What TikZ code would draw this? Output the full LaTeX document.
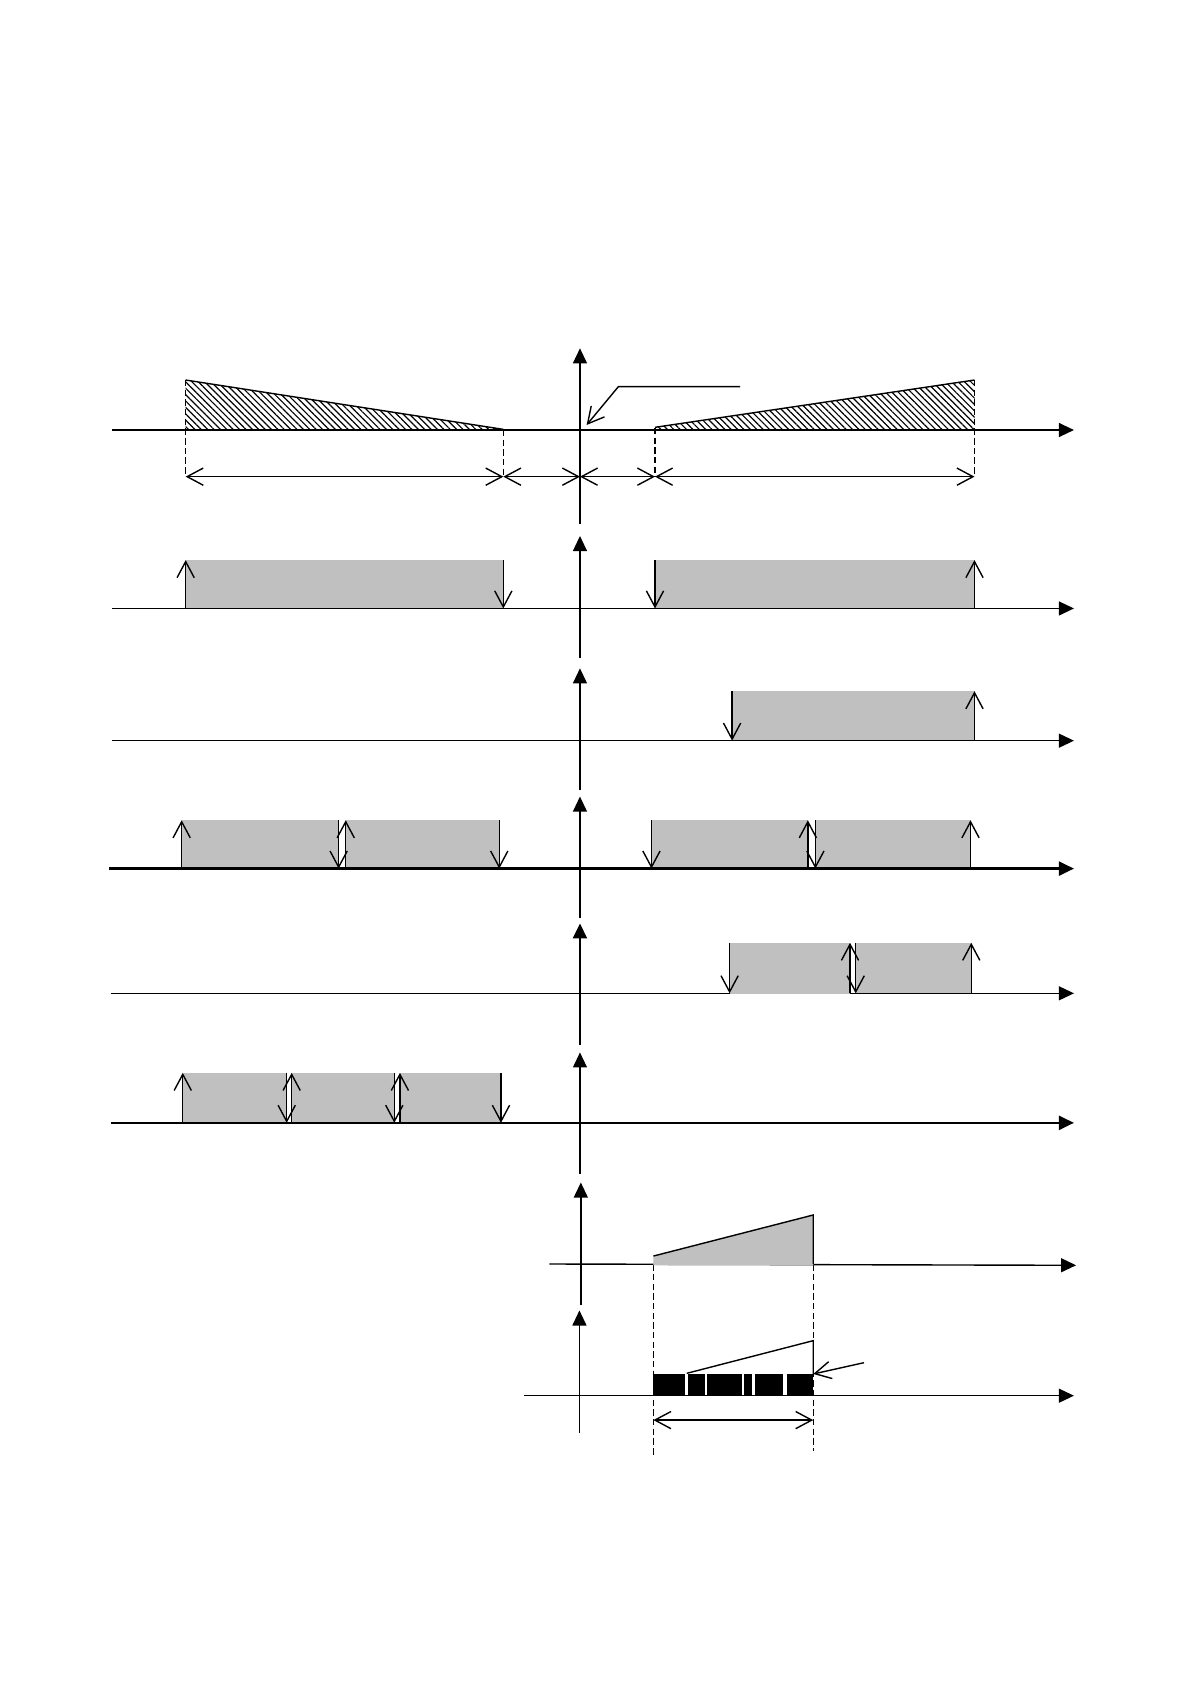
\documentclass[tikz,border=0pt]{standalone}
\usetikzlibrary{arrows.meta,patterns.meta}
\definecolor{fillgray}{RGB}{192,192,192}
\begin{document}
\begin{tikzpicture}[x=1pt,y=-1pt,
  thinln/.style={line width=1.3pt},
  thickln/.style={line width=2.3pt},
  axisarrow/.style={-{Triangle[length=14pt,width=13pt]}},
  openarrow/.style={thinln,-{Straight Barb[length=15pt,width=16pt]}},
  dimarrow/.style={thinln,{Straight Barb[length=15pt,width=16pt]}-{Straight Barb[length=15pt,width=16pt]}},
  dashln/.style={line width=1.2pt,dash pattern=on 6pt off 3pt},
  hatch/.style={pattern={Lines[angle=-45,distance=4.2pt,line width=1.1pt]}},
  barfill/.style={fill=fillgray}]
\useasboundingbox (0,0) rectangle (1107,1566.5);

% ---------- row 1 ----------
\fill[hatch] (172.7,353.5) -- (468.2,399.4) -- (468.2,400) -- (172.7,400) -- cycle;
\fill[hatch] (609.3,397.5) -- (906.5,353.5) -- (906.5,400) -- (609.3,400) -- cycle;
\draw[thinln] (172.7,353.5) -- (468.2,399.4);
\draw[thinln] (609.3,397.5) -- (906.5,353.5);
\draw[thinln,axisarrow] (104,400) -- (999,400);
\draw[thinln,axisarrow] (539.5,487) -- (539.5,324);
\draw[dashln] (172.7,353.5) -- (172.7,443.4);
\draw[dashln] (468.2,400) -- (468.2,443.4);
\draw[dashln] (609.3,398) -- (609.3,443.4);
\draw[dashln] (906.5,353.5) -- (906.5,443.4);
\coordinate (d1) at (172.7,443.4);
\coordinate (d2) at (468.2,443.4);
\coordinate (d3) at (539.5,443.4);
\coordinate (d4) at (609.3,443.4);
\coordinate (d5) at (906.5,443.4);
\draw[dimarrow] (d1) -- (d2);
\draw[dimarrow] (d2) -- (d3);
\draw[dimarrow] (d3) -- (d4);
\draw[dimarrow] (d4) -- (d5);
\coordinate (l1) at (688.4,359.7);
\coordinate (l2) at (575.2,359.7);
\coordinate (l3) at (545.7,395.3);
\draw[openarrow] (l1) -- (l2) -- (l3);

% ---------- row 2 ----------
\fill[barfill] (172.7,521) rectangle (468.2,566);
\fill[barfill] (609.3,521) rectangle (906.5,566);
\draw[thinln,axisarrow] (104,566) -- (999,566);
\draw[thinln,axisarrow] (539.5,612.4) -- (539.5,498.6);
\draw[openarrow] (172.7,566) -- (172.7,521);
\draw[openarrow] (468.2,521) -- (468.2,566);
\draw[openarrow] (609.3,521) -- (609.3,566);
\draw[openarrow] (906.5,566) -- (906.5,521);

% ---------- row 3 ----------
\fill[barfill] (681,643) rectangle (906.5,689);
\draw[thinln,axisarrow] (104,689) -- (999,689);
\draw[thinln,axisarrow] (539.5,735) -- (539.5,621.7);
\draw[openarrow] (681,643) -- (681,689);
\draw[openarrow] (906.5,689) -- (906.5,643);

% ---------- row 4 ----------
\fill[barfill] (169,763) rectangle (315,808);
\fill[barfill] (321.6,763) rectangle (464.4,808);
\fill[barfill] (606,763) rectangle (751.5,808);
\fill[barfill] (758.5,763) rectangle (902.8,808);
\draw[thickln,axisarrow] (101.7,808) -- (999,808);
\draw[thinln,axisarrow] (539.5,854) -- (539.5,741);
\draw[openarrow] (169,808) -- (169,763);
\draw[openarrow] (315,763) -- (315,808);
\draw[openarrow] (321.6,808) -- (321.6,763);
\draw[openarrow] (464.4,763) -- (464.4,808);
\draw[openarrow] (606,763) -- (606,808);
\draw[openarrow] (751.5,808) -- (751.5,763);
\draw[openarrow] (758.5,763) -- (758.5,808);
\draw[openarrow] (902.8,808) -- (902.8,763);

% ---------- row 5 ----------
\draw[thinln,axisarrow] (103,924) -- (999,924);
\fill[barfill] (678.7,877) rectangle (790.7,924.8);
\fill[barfill] (796,877) rectangle (903.5,924);
\draw[thickln,axisarrow] (539.5,972) -- (539.5,859);
\draw[openarrow] (678.7,877) -- (678.7,924);
\draw[openarrow] (790.7,924) -- (790.7,877);
\draw[openarrow] (796,877) -- (796,924);
\draw[openarrow] (903.5,924) -- (903.5,877);

% ---------- row 6 ----------
\fill[barfill] (170,998) rectangle (266.7,1044.5);
\fill[barfill] (271.3,998) rectangle (366.8,1044.5);
\fill[barfill] (372,998) rectangle (466,1044.5);
\draw[thickln,axisarrow] (103,1044.5) -- (999,1044.5);
\draw[thinln,axisarrow] (539.5,1092) -- (539.5,979);
\draw[openarrow] (170,1044.5) -- (170,998);
\draw[openarrow] (266.7,998) -- (266.7,1044.5);
\draw[openarrow] (271.3,1044.5) -- (271.3,998);
\draw[openarrow] (366.8,998) -- (366.8,1044.5);
\draw[openarrow] (372,1044.5) -- (372,998);
\draw[openarrow] (466,998) -- (466,1044.5);

% ---------- row 7 ----------
\draw[thinln,axisarrow] (511,1175.8) -- (1001,1177);
\draw[thinln,axisarrow] (540.3,1214) -- (540.3,1100);
\draw[dashln] (607.8,1176) -- (607.8,1355);
\draw[dashln] (756.5,1176) -- (756.5,1350);
\fill[barfill] (607.8,1177) -- (607.8,1168.4) -- (756.5,1130.2) -- (756.5,1177) -- cycle;
\draw[thinln] (607.8,1168.4) -- (756.5,1130.2) -- (756.5,1176);

% ---------- row 8 ----------
\draw[thinln,axisarrow] (487.5,1298.3) -- (999,1298.3);
\draw[thinln,axisarrow] (539,1332.7) -- (539,1219);
\fill[black] (607.8,1278) rectangle (637.2,1298);
\fill[black] (640.3,1278) rectangle (655.8,1298);
\fill[black] (658,1278) rectangle (690,1298);
\fill[black] (692.4,1278) rectangle (699.2,1298);
\fill[black] (702.3,1278) rectangle (728.7,1298);
\fill[black] (731.8,1278) rectangle (756.5,1298);
\draw[thinln] (638.8,1277.5) -- (756.5,1247.1) -- (756.5,1278);
\coordinate (p1) at (803.7,1267.6);
\coordinate (p2) at (756.5,1278.1);
\draw[openarrow] (p1) -- (p2);
\coordinate (w1) at (607.8,1321);
\coordinate (w2) at (756.5,1321);
\draw[dimarrow] (w1) -- (w2);
\end{tikzpicture}
\end{document}
